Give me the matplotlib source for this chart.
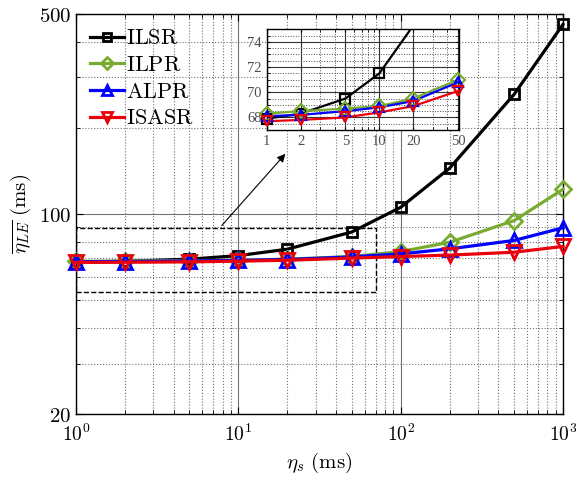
import numpy as np
import matplotlib
matplotlib.use("Agg")
import matplotlib.pyplot as plt
from matplotlib.ticker import FixedLocator, LogLocator, MultipleLocator, NullFormatter

plt.rcParams['mathtext.fontset'] = 'cm'
plt.rcParams['axes.unicode_minus'] = False

# sampling period eta_s (ms) and mean latency for each scheme (ms)
eta_s = [1, 2, 5, 10, 20, 50, 100, 200, 500, 1000]
ilsr = [67.9, 68.3, 69.5, 71.5, 75.3, 86.5, 105.5, 144.5, 262, 460]
ilpr = [68.3, 68.5, 68.7, 68.9, 69.5, 71.0, 73.9, 79.6, 94.8, 122]
alpr = [68.1, 68.2, 68.5, 68.8, 69.3, 70.8, 72.5, 75.5, 80.8, 89.5]
isasr = [67.7, 67.8, 68.0, 68.4, 68.9, 70.1, 71.0, 71.8, 73.5, 77.0]

names = ['ILSR', 'ILPR', 'ALPR', 'ISASR']
series = [ilsr, ilpr, alpr, isasr]
colors = ['black', '#77AC30', '#0000FF', '#E8000B']
markers = ['s', 'D', '^', 'v']
msizes = [7, 8, 10, 10]

x_ticks = [1, 10, 100, 1000]
x_tick_labels = ['$10^0$', '$10^1$', '$10^2$', '$10^3$']
y_ticks = [20, 100, 500]
inset_x_ticks = [1, 2, 5, 10, 20, 50]
inset_y_ticks = [68, 70, 72, 74]

fig = plt.figure(figsize=(5.76, 4.78), dpi=100)
ax = fig.add_axes([0.132, 0.134, 0.8455, 0.8368])

for y, name, c, m, ms in zip(series, names, colors, markers, msizes):
    ax.plot(eta_s, y, color=c, marker=m, markersize=ms, markerfacecolor='none',
            markeredgewidth=2, linewidth=2.3, label=f'$\\mathrm{{{name}}}$', clip_on=False,
            zorder=3)

ax.set_xscale('log')
ax.set_yscale('log')
ax.set_xlim(1, 1000)
ax.set_ylim(20, 500)
ax.xaxis.set_major_locator(FixedLocator(x_ticks))
ax.set_xticklabels(x_tick_labels)
ax.xaxis.set_minor_locator(LogLocator(base=10, subs=np.arange(2, 10)))
ax.xaxis.set_minor_formatter(NullFormatter())
ax.yaxis.set_major_locator(FixedLocator(y_ticks))
ax.set_yticklabels([f'${v}$' for v in y_ticks])
ax.yaxis.set_minor_locator(FixedLocator([30, 40, 50, 60, 70, 80, 90, 200, 300, 400]))
ax.yaxis.set_minor_formatter(NullFormatter())
ax.tick_params(which='both', direction='in', labelsize=15, top=True, right=True)
ax.tick_params(which='major', length=5)
ax.tick_params(which='minor', length=3)
ax.tick_params(axis='x', which='major', pad=7, labelsize=14)
ax.grid(True, which='major', color='0.3', linewidth=0.8, alpha=0.8)
ax.grid(True, which='minor', color='0.45', linestyle=':', linewidth=0.8)
for s in ax.spines.values():
    s.set_linewidth(1.0)

ax.set_xlabel('$\\eta_s\\ \\mathrm{(ms)}$', fontsize=15)
ax.set_ylabel('$\\overline{\\eta_{LE}}\\ \\mathrm{(ms)}$', fontsize=15)

leg = ax.legend(loc='upper left', frameon=False, fontsize=16, handlelength=1.5,
                labelspacing=0.3, borderaxespad=0.2, handletextpad=0.12,
                borderpad=0.45, markerscale=0.75)

# zoom region and pointer to the inset
ax.plot([1, 70, 70, 1, 1], [53.5, 53.5, 89.6, 89.6, 53.5], color='black',
        linestyle='--', linewidth=1.0, zorder=2)
ax.annotate('', xy=(20, 165), xytext=(7.7, 89.6),
            arrowprops=dict(arrowstyle='-|>', color='black', linewidth=0.8,
                            mutation_scale=12))

# inset: close-up of the small eta_s range
ins = fig.add_axes([0.463, 0.728, 0.334, 0.2107])
for y, c, m in zip(series, colors, markers):
    ins.plot(eta_s[:6], y[:6], color=c, linewidth=1.6, zorder=3)
    px = [xv for xv, yv in zip(eta_s[:6], y[:6]) if yv <= 75]
    py = [yv for yv in y[:6] if yv <= 75]
    ins.plot(px, py, linestyle='none', color=c, marker=m, markersize=7,
             markerfacecolor='none', markeredgewidth=1.6, clip_on=False, zorder=4)
ins.set_xscale('log')
ins.set_xlim(1, 51)
ins.set_ylim(67, 75)
ins.xaxis.set_major_locator(FixedLocator(inset_x_ticks))
ins.set_xticklabels([str(v) for v in inset_x_ticks])
ins.xaxis.set_minor_locator(FixedLocator([3, 4, 6, 7, 8, 9, 30, 40]))
ins.xaxis.set_minor_formatter(NullFormatter())
ins.yaxis.set_major_locator(FixedLocator(inset_y_ticks))
ins.yaxis.set_minor_locator(MultipleLocator(0.5))
ins.tick_params(which='both', direction='in', labelsize=10.5, labelcolor='0.3',
                top=True, right=True, length=2)
for lab in ins.get_xticklabels() + ins.get_yticklabels():
    lab.set_family('Liberation Serif')
ins.grid(True, which='major', color='0.2', linewidth=0.8)
ins.grid(True, which='minor', color='0.3', linestyle=':', linewidth=0.7)
for s in ins.spines.values():
    s.set_linewidth(1.0)

fig.savefig('out.png', dpi=100)
